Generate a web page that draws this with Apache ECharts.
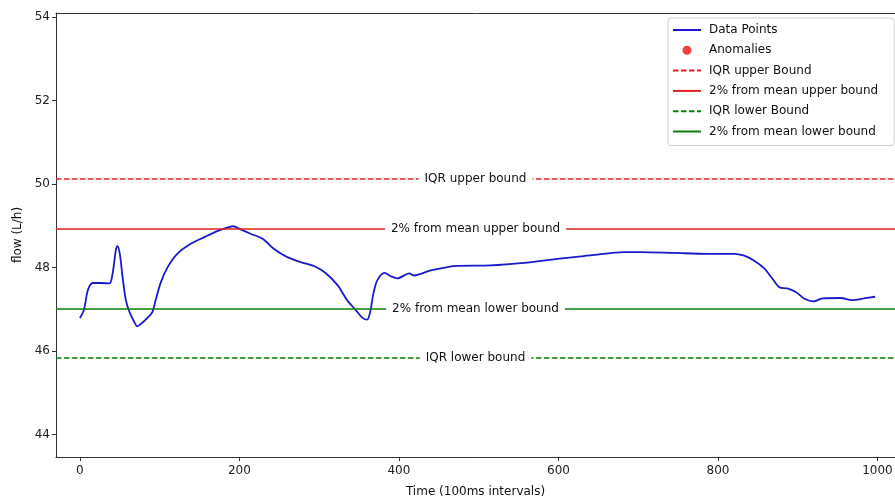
<!DOCTYPE html>
<html>
<head>
<meta charset="utf-8">
<script src="https://cdn.jsdelivr.net/npm/echarts@6/dist/echarts.min.js"></script>
<style>html,body{margin:0;padding:0;background:#fff}#c{width:895px;height:499px}</style>
</head>
<body>
<div id="c"></div>
<script>
const timeX = [0,5,10,16,26,37,41,45,47,50,53.5,57.6,62,68,72,76,85,91,95,101.5,110,122,139,156,173,187,192,202,214,229,243,260,277,294,308,323,335,346,354,360,364,368,373,382,390,398,413,419,440,473,515,557,599,640,682,703,745,787,820,832,845,858,868,877,887,898,908,920,931,954,968,983,997];
const flowY = [46.79,46.98,47.46,47.63,47.63,47.62,47.86,48.41,48.51,48.33,47.77,47.22,46.94,46.70,46.59,46.64,46.80,46.94,47.22,47.65,48.01,48.33,48.57,48.73,48.88,48.97,48.99,48.91,48.81,48.69,48.45,48.25,48.13,48.03,47.87,47.58,47.22,46.98,46.80,46.75,46.94,47.38,47.70,47.87,47.79,47.74,47.86,47.81,47.93,48.04,48.05,48.11,48.21,48.29,48.37,48.37,48.35,48.33,48.33,48.29,48.17,47.98,47.74,47.53,47.50,47.41,47.26,47.19,47.26,47.27,47.22,47.26,47.30];
const iqrUpper = 50.13;
const pctUpper = 48.93;
const pctLower = 47.01;
const iqrLower = 45.83;
const xTicks = [0,200,400,600,800,1000];
const yTicks = [44,46,48,50,52,54];
const anomalies = [];

const RED = '#dd2020', GREEN = '#0a800a', BLUE = '#1a1acc';
const points = timeX.map((x,i)=>[x, flowY[i]]);

function boundSeries(name, value, color, dashed, label){
  const ls = {color, width:1.6, type: dashed ? [5.5,2.5] : 'solid'};
  return {
    name, type:'line', data:[], symbol:'none',
    lineStyle:ls, itemStyle:{color},
    markLine:{
      silent:true, symbol:'none', animation:false,
      lineStyle:ls,
      label:{show:true, position:'middle', distance:0, verticalAlign:'middle',
        formatter:label, color:'#111',
        fontFamily:'DejaVu Sans', fontSize:12, backgroundColor:'#fff', padding:[2,6]},
      emphasis:{disabled:true},
      data:[{yAxis:value}]
    }
  };
}

const axisFont = {fontFamily:'DejaVu Sans', fontSize:12, color:'#222'};
const chart = echarts.init(document.getElementById('c'));
chart.setOption({
  animation:false,
  grid:{left:56, top:13, right:0, bottom:42, outerBoundsMode:'none', containLabel:false},
  xAxis:[{
    type:'value', min:-30, max:1022,
    name:'Time (100ms intervals)', nameLocation:'middle', nameGap:29,
    nameTextStyle:{fontFamily:'DejaVu Sans', fontSize:12, color:'#111'},
    axisLine:{show:true, onZero:false, lineStyle:{color:'#333'}},
    axisTick:{show:true, length:4, customValues:xTicks, lineStyle:{color:'#333'}},
    axisLabel:Object.assign({customValues:xTicks, margin:8, formatter:v=>String(v)}, axisFont),
    splitLine:{show:false}
  },{
    type:'value', position:'top', min:-30, max:1022,
    axisLine:{show:true, onZero:false, lineStyle:{color:'#333'}},
    axisTick:{show:false}, axisLabel:{show:false}, splitLine:{show:false}
  }],
  yAxis:{
    type:'value', min:43.46, max:54.1,
    name:'flow (L/h)', nameLocation:'middle', nameGap:26, nameRotate:90,
    nameTextStyle:{fontFamily:'DejaVu Sans', fontSize:12, color:'#111'},
    axisLine:{show:true, onZero:false, lineStyle:{color:'#333'}},
    axisTick:{show:true, length:4, customValues:yTicks, lineStyle:{color:'#333'}},
    axisLabel:Object.assign({customValues:yTicks, margin:6}, axisFont),
    splitLine:{show:false}
  },
  legend:{
    orient:'vertical', left:668, top:18,
    padding:[6,16,8,4], itemGap:8.3, itemWidth:28, itemHeight:9,
    borderColor:'#d0d0d0', borderWidth:1, borderRadius:3, backgroundColor:'#fff',
    itemStyle:{color:'transparent', borderColor:'transparent', borderWidth:0},
    textStyle:{fontFamily:'DejaVu Sans', fontSize:12, color:'#111', padding:[0,0,0,3]},
    data:[
      {name:'Data Points'},
      {name:'Anomalies', icon:'circle', itemStyle:{color:'#ee1111', borderWidth:0}},
      {name:'IQR upper Bound'},
      {name:'2% from mean upper bound'},
      {name:'IQR lower Bound'},
      {name:'2% from mean lower bound'}
    ]
  },
  series:[
    {name:'Data Points', type:'line', data:points, symbol:'none', smooth:0.3,
     lineStyle:{color:BLUE, width:1.8}, itemStyle:{color:BLUE}},
    {name:'Anomalies', type:'scatter', data:anomalies, symbolSize:8, itemStyle:{color:'#ee1111'}},
    boundSeries('IQR upper Bound', iqrUpper, RED, true, 'IQR upper bound'),
    boundSeries('2% from mean upper bound', pctUpper, RED, false, '2% from mean upper bound'),
    boundSeries('IQR lower Bound', iqrLower, GREEN, true, 'IQR lower bound'),
    boundSeries('2% from mean lower bound', pctLower, GREEN, false, '2% from mean lower bound')
  ]
});
</script>
</body>
</html>
